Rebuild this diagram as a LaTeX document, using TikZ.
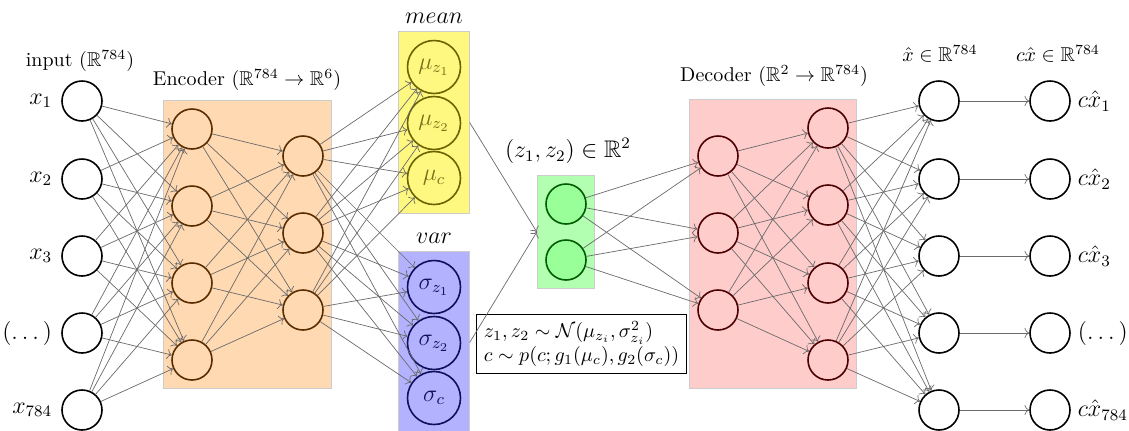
\documentclass[tikz,border=0pt]{standalone}
\usepackage{amsmath,amssymb}
\usepackage{tikz}
\usetikzlibrary{positioning,arrows.meta,fit,backgrounds}
\definecolor{vaegray}{HTML}{6A6A6A}
\definecolor{encline}{HTML}{5A2D00}
\definecolor{meanline}{HTML}{6B6300}
\definecolor{varline}{HTML}{10105A}
\definecolor{latline}{HTML}{005A00}
\definecolor{decline}{HTML}{4A0000}
\tikzset{
  neuron/.style={circle, draw=black, thick, minimum size=20pt, inner sep=0pt},
  param/.style={neuron, minimum size=26.5pt, font=\large},
  layerbox/.style={draw=gray!40, inner sep=4pt},
  conn/.style={->, draw=vaegray, line width=0.35pt},
  biglabel/.style={font=\large},
}

\begin{document}
\begin{tikzpicture}[x=0.5pt, y=-0.5pt]
\useasboundingbox (0,0) rectangle (1129,430);
% input and reconstructed columns
\foreach \i/\y/\l/\r in {1/101/x_1/c\hat{x}_1, 2/179/x_2/c\hat{x}_2, 3/256/x_3/c\hat{x}_3,
    4/333/(\dots)/(\dots), 5/410/x_{784}/c\hat{x}_{784}} {
  \node[neuron] (in\i) at (82,\y) {};
  \node[biglabel, left=1pt of in\i] (inl\i) {$\l$};
  \node[neuron] (xh\i) at (939,\y) {};
  \node[neuron] (cx\i) at (1050,\y) {};
  \node[biglabel, right=0pt of cx\i] (cxl\i) {$\r$};
  \draw[conn] (xh\i) -- (cx\i);
}
% encoder
\foreach \i/\y in {1/129, 2/206, 3/283, 4/360}
  \node[neuron, draw=encline] (ea\i) at (192,\y) {};
\foreach \i/\y in {1/156, 2/233, 3/310}
  \node[neuron, draw=encline] (eb\i) at (303,\y) {};
% mean and var
\foreach \i/\y/\t in {1/67/z_1, 2/123/z_2, 3/178/c}
  \node[param, draw=meanline, text=meanline!90] (mu\i) at (434,\y) {$\mu_{\t}$};
\foreach \i/\y/\t in {1/287/z_1, 2/343/z_2, 3/398/c}
  \node[param, draw=varline, text=varline] (sg\i) at (434,\y) {$\sigma_{\t}$};
% latent
\node[neuron, draw=latline, fill=green!40] (z1) at (566,204) {};
\node[neuron, draw=latline, fill=green!40] (z2) at (566,260) {};
% decoder
\foreach \i/\y in {1/156, 2/233, 3/310}
  \node[neuron, draw=decline] (da\i) at (718,\y) {};
\foreach \i/\y in {1/128, 2/205, 3/283, 4/360}
  \node[neuron, draw=decline] (db\i) at (828,\y) {};

\begin{scope}[on background layer]
  \node[layerbox, fill=orange!30, fit=(ea1)(ea4)(eb1)] (encbox) {};
  \node[layerbox, fill=yellow!50, fit=(mu1)(mu3)] (meanbox) {};
  \node[layerbox, fill=blue!30, fit=(sg1)(sg3)] (varbox) {};
  \node[layerbox, fill=green!30, fit=(z1)(z2)] (latbox) {};
  \node[layerbox, fill=red!20, fit=(da1)(db1)(db4)] (decbox) {};
\end{scope}

% titles
\node (inlab) at (80,61) {input ($\mathbb{R}^{784}$)};
\node (enclab) at (247,80) {Encoder ($\mathbb{R}^{784}\rightarrow\mathbb{R}^{6}$)};
\node[biglabel] (meanlab) at (434,18) {$mean$};
\node[biglabel] (varlab) at (434,238) {$var$};
\node[biglabel] (latlab) at (568,151) {$(z_1,z_2)\in\mathbb{R}^2$};
\node (declab) at (774,76) {Decoder ($\mathbb{R}^{2}\rightarrow\mathbb{R}^{784}$)};
\node (xhlab) at (940,54) {$\hat{x}\in\mathbb{R}^{784}$};
\node (cxlab) at (1058,54) {$c\hat{x}\in\mathbb{R}^{784}$};
\node[draw, align=left, inner sep=3.5pt] (sample) at (581.5,344)
  {$z_1,z_2\sim\mathcal{N}(\mu_{z_i},\sigma^2_{z_i})$\\
   $c\sim p(c;g_1(\mu_c),g_2(\sigma_c))$};

% connections
\foreach \i in {1,...,5}
  \foreach \j in {1,...,4}
    \draw[conn] (in\i) -- (ea\j);
\foreach \i in {1,...,4}
  \foreach \j in {1,...,3}
    \draw[conn] (ea\i) -- (eb\j);
\foreach \i in {1,...,3}
  \foreach \j in {1,...,3} {
    \draw[conn] (eb\i) -- (mu\j);
    \draw[conn] (eb\i) -- (sg\j);
  }
\draw[conn] (meanbox.east) -- (latbox.west);
\draw[conn] (varbox.east) -- (latbox.west);
\foreach \i in {1,2}
  \foreach \j in {1,...,3}
    \draw[conn] (z\i) -- (da\j);
\foreach \i in {1,...,3}
  \foreach \j in {1,...,4}
    \draw[conn] (da\i) -- (db\j);
\foreach \i in {1,...,4}
  \foreach \j in {1,...,5}
    \draw[conn] (db\i) -- (xh\j);
\end{tikzpicture}
\end{document}
